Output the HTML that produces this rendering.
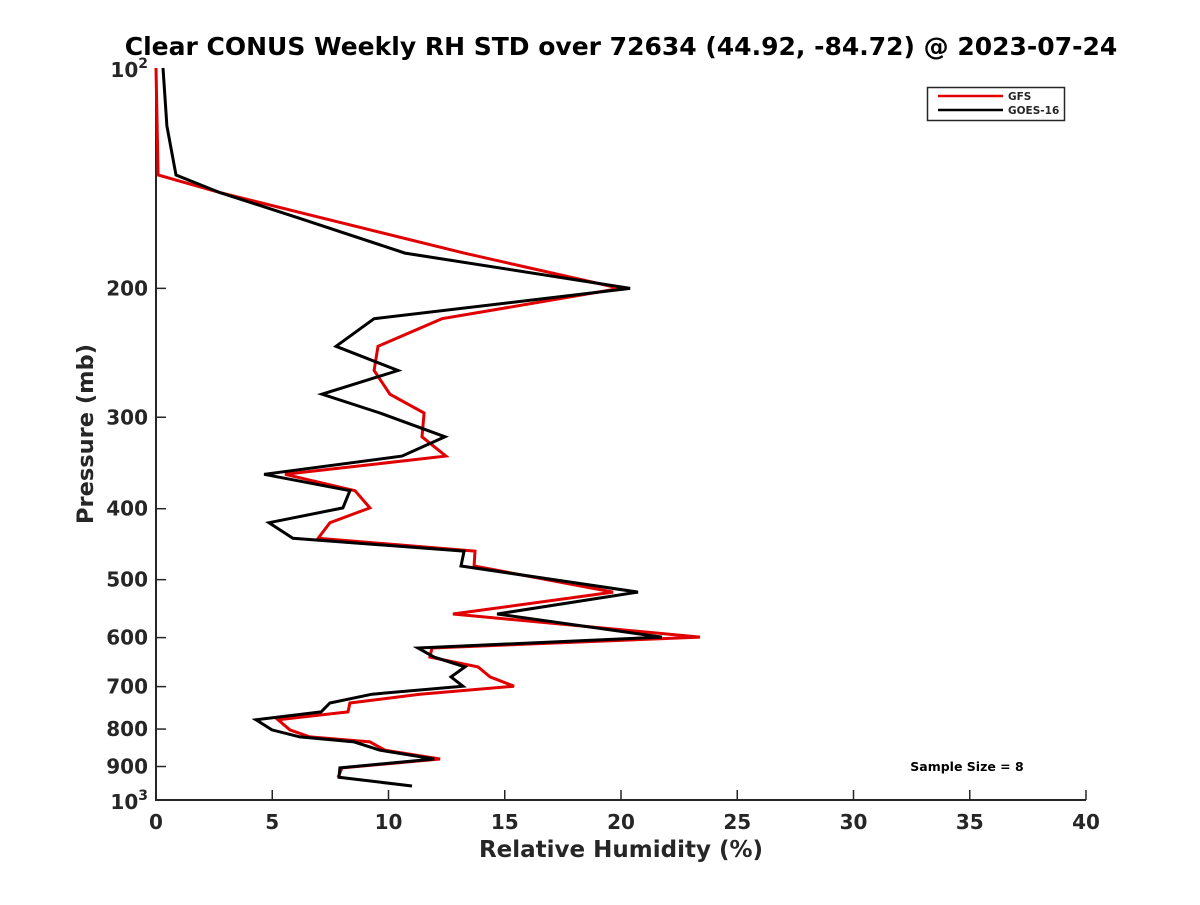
<!DOCTYPE html>
<html><head><meta charset="utf-8"><style>
body{margin:0;background:#fff;}
svg text{font-family:"DejaVu Sans","Liberation Sans",sans-serif;font-weight:bold;fill:#262626;}
</style></head><body>
<svg id="chart" width="1200" height="900" xmlns="http://www.w3.org/2000/svg">
<rect width="1200" height="900" fill="#fff"/>
<text x="621" y="55" text-anchor="middle" font-size="25" style="fill:#000">Clear CONUS Weekly RH STD over 72634 (44.92, -84.72) @ 2023-07-24</text>
<g id="axes"></g>
<g id="series"></g>
<g>
<rect x="927.5" y="87.5" width="137" height="33" fill="#fff" stroke="#262626" stroke-width="1.5"/>
<line x1="938" y1="96" x2="1003" y2="96" stroke="#e00000" stroke-width="2.5"/>
<text x="1008" y="100" font-size="10.5">GFS</text>
<line x1="938" y1="110" x2="1003" y2="110" stroke="#000" stroke-width="2.5"/>
<text x="1008" y="114" font-size="10.5">GOES-16</text>
</g>
<text x="967" y="771" text-anchor="middle" font-size="12.5" style="fill:#000">Sample Size = 8</text>
<text x="621" y="857" text-anchor="middle" font-size="23">Relative Humidity (%)</text>
<text transform="translate(93,434) rotate(-90)" text-anchor="middle" font-size="22.5">Pressure (mb)</text>
</svg>
<script>
const xTicks=[0,5,10,15,20,25,30,35,40];
const yTicks=[200,300,400,500,600,700,800,900];
const gfsPressure=[100,140,148,160,179,200,220,240,259,279,296,319,339,359,378,399,418,439,457,479,520,557,599,620,638,658,679,699,717,737,758,777,802,820,833,855,879,904,931];
const gfsValues=[0,0.09,2.75,7.05,13.25,19.96,12.30,9.55,9.38,10.06,11.53,11.44,12.47,5.55,8.56,9.20,7.48,6.97,13.72,13.68,19.66,12.77,23.40,11.87,11.78,13.85,14.37,15.40,11.35,8.34,8.26,5.25,5.76,6.62,9.20,9.85,12.22,8.00,7.83];
const goesPressure=[100,120,140,148,160,179,200,220,240,259,279,296,319,339,359,378,399,418,439,457,479,520,557,599,620,638,658,679,699,717,737,758,777,802,820,833,855,879,904,931,957];
const goesValues=[0.30,0.47,0.86,2.75,6.06,10.71,20.39,9.38,7.74,10.41,7.14,9.63,12.43,10.58,4.65,8.34,8.04,4.86,5.89,13.25,13.12,20.73,14.67,21.76,11.27,11.96,13.29,12.69,13.20,9.29,7.48,7.10,4.30,4.99,6.19,8.52,9.63,11.96,7.91,7.87,11.01];

const L=156,R=1086,T=68,B=800;
const X=v=>L+(v-0)/(40-0)*(R-L);
const Y=p=>T+(Math.log10(p)-2)*(B-T);
const NS='http://www.w3.org/2000/svg';
function mk(tag,attrs,parent){const e=document.createElementNS(NS,tag);for(const k in attrs)e.setAttribute(k,attrs[k]);parent.appendChild(e);return e;}
const ax=document.getElementById('axes');
mk('line',{x1:L,y1:T,x2:L,y2:B+1,stroke:'#262626','stroke-width':2},ax);
mk('line',{x1:L-1,y1:B,x2:R,y2:B,stroke:'#262626','stroke-width':2},ax);
xTicks.forEach(v=>{
 const t=mk('line',{x1:X(v),y1:B,x2:X(v),y2:B-10,stroke:'#262626','stroke-width':1.5},ax);
 
 
 const s=mk('text',{x:X(v),y:B+29,'text-anchor':'middle','font-size':20},ax);
 s.textContent=v;
 
 
});
yTicks.forEach(p=>{
 const t=mk('line',{x1:L,y1:Y(p),x2:L+10,y2:Y(p),stroke:'#262626','stroke-width':1.5},ax);
 
 
 const s=mk('text',{x:L-8,y:Y(p)+7,'text-anchor':'end','font-size':20},ax);
 s.textContent=p;
 
 
});
[[100,'2'],[1000,'3']].forEach(([p,e])=>{
 const s=mk('text',{x:L-8,y:Y(p)+9,'text-anchor':'end','font-size':20},ax);
 s.innerHTML='10<tspan font-size="14" dy="-9">'+e+'</tspan>';
 
 
});
const sg=document.getElementById('series');
function line(vals,pres,color,name){
 const pts=vals.map((v,i)=>X(v).toFixed(1)+','+Y(pres[i]).toFixed(1)).join(' ');
 const pl=mk('polyline',{points:pts,fill:'none',stroke:color,'stroke-width':3,'stroke-linejoin':'miter'},sg);
 
 
}
line(gfsValues,gfsPressure,'#e00000','gfs-line');
line(goesValues,goesPressure,'#000','goes16-line');
</script>
</body></html>
